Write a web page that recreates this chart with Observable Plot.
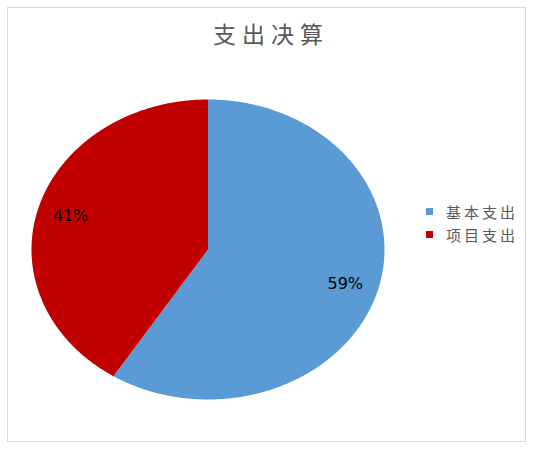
<!DOCTYPE html>
<html>
<head>
<meta charset="utf-8">
<script src="https://cdn.jsdelivr.net/npm/d3@7"></script>
<script src="https://cdn.jsdelivr.net/npm/@observablehq/plot@0.6"></script>
<style>
  html, body { margin: 0; padding: 0; background: #fff; }
  #wrap { position: relative; width: 536px; height: 449px; overflow: hidden; }
  #frame { position: absolute; left: 7px; top: 7px; width: 519px; height: 435px; border: 1px solid #d9d9d9; box-sizing: border-box; }
  #title { position: absolute; left: 0; top: 22px; width: 536px; text-align: center; font-family: "Noto Sans CJK SC", sans-serif; font-size: 23px; line-height: 23px; letter-spacing: 6px; text-indent: 6px; color: #595959; }
  #chart { position: absolute; left: 0; top: 0; }
  .leg { position: absolute; left: 426px; font-family: "Noto Sans CJK SC", sans-serif; font-size: 15px; line-height: 16px; letter-spacing: 3px; color: #595959; white-space: nowrap; }
  .leg .sw { position: absolute; left: 0; top: 4px; width: 7px; height: 7px; }
  .leg .lb { position: absolute; left: 20px; top: 0; }
</style>
</head>
<body>
<div id="wrap">
  <div id="frame"></div>
  <div id="chart"></div>
  <div id="title"></div>
</div>
<script>
const titleText = "支出决算";
const categories = ["基本支出", "项目支出"];
const values = [59, 41];
const colors = ["#5B9BD5", "#C00000"];
const labels = ["59%", "41%"];

document.getElementById("title").textContent = titleText;

const arcs = d3.pie().sort(null).startAngle(0).endAngle(2 * Math.PI)(values);

// polygon points for each slice (unit circle, y up), derived from the pie angles
const pts = [];
arcs.forEach((a, i) => {
  pts.push({name: categories[i], x: 0, y: 0});
  const n = Math.max(2, Math.ceil((a.endAngle - a.startAngle) / (Math.PI / 360)));
  for (let k = 0; k <= n; k++) {
    const t = a.startAngle + (a.endAngle - a.startAngle) * k / n;
    pts.push({name: categories[i], x: Math.sin(t), y: Math.cos(t)});
  }
  pts.push({name: categories[i], x: 0, y: 0});
});

const lab = arcs.map((a, i) => {
  const m = (a.startAngle + a.endAngle) / 2;
  return {text: labels[i], x: 0.81 * Math.sin(m), y: 0.81 * Math.cos(m)};
});

const cx = 207.5, cy = 249, rx = 176.5, ry = 150;

const plot = Plot.plot({
  width: 536,
  height: 449,
  margin: 0,
  x: {domain: [-1, 1], range: [cx - rx, cx + rx], axis: null},
  y: {domain: [-1, 1], range: [cy + ry, cy - ry], axis: null},
  color: {domain: categories, range: colors},
  marks: [
    Plot.line(pts, {x: "x", y: "y", z: "name", fill: "name", stroke: null, curve: "linear"}),
    Plot.text(lab, {x: "x", y: "y", text: "text", fill: "#000", fontSize: 16, fontFamily: "DejaVu Sans, sans-serif"})
  ]
});
document.getElementById("chart").appendChild(plot);

const wrap = document.getElementById("wrap");
categories.forEach((c, i) => {
  const d = document.createElement("div");
  d.className = "leg";
  d.style.top = (204 + i * 23) + "px";
  const sw = document.createElement("div");
  sw.className = "sw";
  sw.style.background = colors[i];
  const lb = document.createElement("div");
  lb.className = "lb";
  lb.textContent = c;
  d.appendChild(sw);
  d.appendChild(lb);
  wrap.appendChild(d);
});
</script>
</body>
</html>
